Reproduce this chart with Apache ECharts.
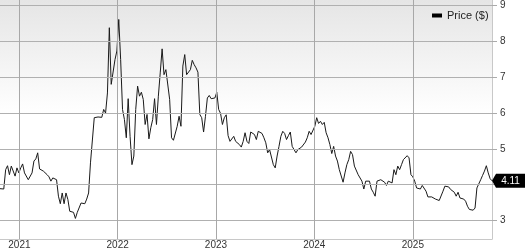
<!DOCTYPE html>
<html>
<head>
<meta charset="utf-8">
<script src="https://cdn.jsdelivr.net/npm/echarts@6/dist/echarts.min.js"></script>
<style>
html,body{margin:0;padding:0;background:#fff;}
#chart{width:526px;height:250px;}
</style>
</head>
<body>
<div id="chart"></div>
<script>
// Weekly closing prices
const startDate = '2020-10-21';
const prices = [
3.89,3.87,3.88,4.42,4.53,4.28,4.52,4.47,4.24,4.47,
4.33,4.47,4.58,4.33,4.28,4.14,4.16,4.33,4.66,4.72,
4.89,4.44,4.40,4.38,4.33,4.28,4.22,4.10,4.19,4.19,
4.14,3.68,3.47,3.77,3.47,3.77,3.59,3.26,3.23,3.23,
3.06,3.23,3.21,3.49,3.45,3.47,3.60,3.77,4.61,4.66,
5.87,5.89,5.89,5.93,5.88,6.10,6.00,6.56,8.38,6.80,
6.75,7.49,7.73,8.61,7.49,6.10,5.82,5.31,6.40,5.35,
4.56,4.80,6.10,6.75,6.47,6.58,6.38,5.68,5.96,5.28,
5.59,5.82,6.40,5.68,6.47,7.12,7.79,7.07,7.21,7.17,
6.38,5.31,5.24,5.23,5.63,5.91,5.63,7.31,7.63,7.07,
7.03,7.21,7.47,7.35,7.26,7.14,5.96,5.87,5.47,5.91,
6.42,6.49,6.40,6.41,6.42,6.58,6.10,5.99,5.68,5.87,
5.95,5.37,5.21,5.21,5.35,5.21,5.17,5.12,5.05,5.21,
5.45,5.21,5.15,5.47,5.45,5.40,5.26,5.49,
5.49,5.43,5.31,5.17,4.89,4.98,4.93,4.56,4.47,4.80,
5.07,5.35,5.49,5.43,5.26,5.37,5.47,5.07,5.03,4.89,
4.98,5.03,5.05,5.09,5.19,5.31,5.49,5.40,5.45,5.63,
5.87,5.71,5.77,5.68,5.74,5.45,5.31,5.12,4.87,5.07,
4.80,4.66,4.42,4.47,4.07,4.33,4.56,4.70,4.93,4.84,
4.52,4.47,4.28,4.24,4.10,3.88,4.10,4.14,4.10,3.88,
3.79,3.68,4.10,4.14,4.14,4.10,4.07,3.98,4.10,4.14,
4.05,4.42,4.28,4.52,4.42,4.56,4.70,4.66,4.81,4.75,
4.28,4.22,4.10,3.91,3.91,3.88,3.98,3.96,3.82,3.66,
3.70,3.66,3.68,3.60,3.57,3.56,3.60,3.82,3.96,4.00,
3.94,3.87,3.82,3.79,3.68,3.79,3.63,3.63,3.60,3.54,
3.40,3.31,3.29,3.29,3.35,3.91,3.96,4.14,4.26,4.38,
4.53,4.33,4.17,4.11
];
const yearTicks = ['2021-01-01','2022-01-01','2023-01-01','2024-01-01','2025-01-01'];
const priceTicks = [3,4,5,6,7,8,9];
const seriesName = 'Price ($)';

const DAY = 86400000;
const t0 = Date.parse(startDate + 'T00:00:00Z');
const seriesData = prices.map((v, i) => [t0 + i * 7 * DAY, v]);
const yearTickTimes = yearTicks.map(d => Date.parse(d + 'T00:00:00Z'));
const last = seriesData[seriesData.length - 1];
const FONT = '"Liberation Sans", Arial, Helvetica, sans-serif';
const AXIS_COLOR = '#c8c8c8';
const GRID_COLOR = '#b0b0b0';
const VGRID_COLOR = '#a8a8a8';

const chart = echarts.init(document.getElementById('chart'), null, {renderer: 'canvas'});
chart.setOption({
  animation: false,
  backgroundColor: '#ffffff',
  grid: {
    left: 0, right: 34, top: 0, bottom: 10,
    show: true,
    z: -1,
    borderWidth: 0,
    backgroundColor: new echarts.graphic.LinearGradient(0, 0, 0, 1, [
      {offset: 0, color: '#e5e5e5'},
      {offset: 0.48, color: '#ffffff'},
      {offset: 1, color: '#ffffff'}
    ])
  },
  legend: {
    show: true,
    left: 427, top: 5,
    itemWidth: 10, itemHeight: 4,
    icon: 'rect',
    selectedMode: false,
    textStyle: {fontFamily: FONT, fontSize: 11, color: '#222'},
    data: [{name: seriesName, itemStyle: {color: '#000'}}]
  },
  xAxis: {
    type: 'value',
    z: 2,
    min: seriesData[0][0],
    max: last[0],
    axisLine: {show: true, lineStyle: {color: AXIS_COLOR, width: 1}},
    axisTick: {show: false, customValues: yearTickTimes},
    splitLine: {show: false},
    axisLabel: {
      customValues: yearTickTimes,
      formatter: v => String(new Date(v).getUTCFullYear()),
      fontFamily: FONT, fontSize: 10, color: '#333', margin: 1
    }
  },
  yAxis: {
    type: 'value',
    z: 2,
    position: 'right',
    min: 2.48611, max: 9.15278,
    axisLine: {show: true, lineStyle: {color: AXIS_COLOR, width: 1}},
    axisTick: {show: true, length: 5, customValues: priceTicks, lineStyle: {color: '#aaaaaa'}},
    splitLine: {show: false},
    axisLabel: {
      customValues: priceTicks,
      fontFamily: FONT, fontSize: 10, color: '#333', margin: 8
    }
  },
  series: [{
    // grid lines, drawn behind the price line through the axes' scales
    name: 'gridlines',
    type: 'line',
    data: seriesData,
    z: 2,
    silent: true,
    showSymbol: false,
    symbol: 'none',
    lineStyle: {opacity: 0},
    markLine: {
      silent: true,
      animation: false,
      symbol: ['none', 'none'],
      label: {show: false},
      lineStyle: {color: GRID_COLOR, width: 1, type: 'solid', opacity: 1},
      emphasis: {disabled: true},
      data: priceTicks.map(v => ({yAxis: v}))
        .concat(yearTickTimes.map(t => ({xAxis: t, lineStyle: {color: VGRID_COLOR}})))
    }
  }, {
    name: seriesName,
    type: 'line',
    z: 3,
    data: seriesData,
    showSymbol: false,
    symbol: 'none',
    lineStyle: {color: '#1a1a1a', width: 1},
    itemStyle: {color: '#000'},
    markPoint: {
      symbol: 'path://M0,7L4,0L33,0L33,14L4,14Z',
      symbolSize: [33, 14],
      symbolOffset: ['50%', 0],
      itemStyle: {color: '#000'},
      label: {
        show: true, position: 'inside', offset: [2, 0],
        color: '#fff', fontFamily: FONT, fontSize: 10,
        formatter: p => p.value.toFixed(2)
      },
      data: [{coord: last, value: last[1]}]
    }
  }]
});
</script>
</body>
</html>
